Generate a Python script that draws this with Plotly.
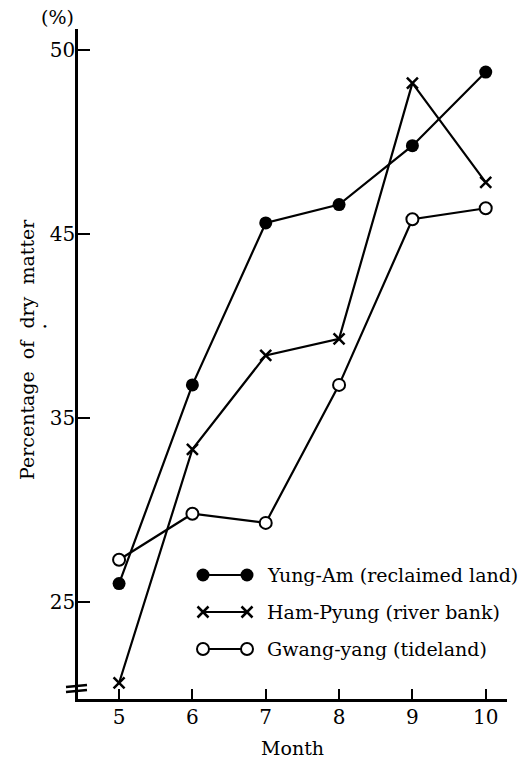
import numpy as np
import plotly.graph_objects as go

# ---- data ----
months = [5, 6, 7, 8, 9, 10]
series_names = ["Yung-Am (reclaimed land)", "Ham-Pyung (river bank)", "Gwang-yang (tideland)"]
yung_am = [26.0, 36.8, 45.3, 45.8, 47.4, 49.4]
ham_pyung = [20.6, 33.3, 38.4, 39.3, 49.1, 46.4]
gwang_yang = [27.3, 29.8, 29.3, 36.8, 45.4, 45.7]
y_tick_labels = [25, 35, 45, 50]
x_tick_labels = [5, 6, 7, 8, 9, 10]

# The printed y axis spaces its labelled ticks evenly (25, 35, 45, 50),
# so values are placed on that piecewise scale.
scale_vals = [15] + y_tick_labels
scale_pos = [-1, 0, 1, 2, 3]


def to_axis(v):
    return np.interp(v, scale_vals, scale_pos)


FONT = "DejaVu Serif"
W, H = 531, 760
L, R, T, B = 78, 24, 29, 61
PW, PH = W - L - R, H - T - B


def px(x):
    return (x - L) / PW


def py(y):
    return (H - B - y) / PH


fig = go.Figure()

styles = [
    dict(symbol="circle", size=13, color="black", line=dict(color="black", width=0)),
    dict(symbol="x-thin", size=11, color="black", line=dict(color="black", width=2.5)),
    dict(symbol="circle", size=12, color="white", line=dict(color="black", width=2)),
]
all_series = [yung_am, ham_pyung, gwang_yang]

for name, vals, st in zip(series_names, all_series, styles):
    fig.add_trace(go.Scatter(
        x=months, y=to_axis(vals), mode="lines+markers", name=name,
        line=dict(color="black", width=2.2), marker=st,
        showlegend=False, cliponaxis=False,
    ))

# custom legend keys (marker - line - marker), on an overlay axis
key_x = [px(203), px(247)]
key_rows = [py(575), py(612), py(649)]
for name, st, ky in zip(series_names, styles, key_rows):
    fig.add_trace(go.Scatter(
        x=key_x, y=[ky, ky], mode="lines+markers", xaxis="x2", yaxis="y2",
        line=dict(color="black", width=2.2), marker=st, showlegend=False,
        hoverinfo="skip", cliponaxis=False,
    ))
    fig.add_annotation(x=px(265), y=ky, xref="paper", yref="paper", text=name,
                       showarrow=False, xanchor="left", yanchor="middle",
                       font=dict(family=FONT, size=19, color="black"))

fig.update_layout(
    width=W, height=H,
    margin=dict(l=L, r=R, t=T, b=B),
    paper_bgcolor="white", plot_bgcolor="white",
    font=dict(family=FONT, size=18, color="black"),
    xaxis=dict(
        range=[4.44, 10.29], tickvals=x_tick_labels, ticktext=[str(v) for v in x_tick_labels],
        showline=True, linecolor="black", linewidth=2.5, ticks="inside", ticklen=10,
        tickwidth=2, tickcolor="black", showgrid=False, zeroline=False,
        ticklabelstandoff=-2, tickfont=dict(family=FONT, size=20),
    ),
    yaxis=dict(
        range=[-0.527, 3.114], tickvals=to_axis(y_tick_labels),
        ticktext=[str(v) for v in y_tick_labels],
        showline=True, linecolor="black", linewidth=2.5, ticks="inside", ticklen=12,
        tickwidth=2, tickcolor="black", showgrid=False, zeroline=False,
        ticklabelstandoff=-4, tickfont=dict(family=FONT, size=20),
    ),
    xaxis2=dict(range=[0, 1], overlaying="x", visible=False, fixedrange=True),
    yaxis2=dict(range=[0, 1], overlaying="y", visible=False, fixedrange=True),
)

# axis titles and unit label
fig.add_annotation(x=px(292), y=py(748), xref="paper", yref="paper", text="Month",
                   showarrow=False, xanchor="center", yanchor="middle",
                   font=dict(family=FONT, size=19))
fig.add_annotation(x=px(27), y=py(350), xref="paper", yref="paper",
                   text="Percentage\u00a0 of\u00a0 dry\u00a0 matter", textangle=-90,
                   showarrow=False, xanchor="center", yanchor="middle",
                   font=dict(family=FONT, size=19))
fig.add_annotation(x=px(57), y=py(17), xref="paper", yref="paper", text="(%)",
                   showarrow=False, xanchor="center", yanchor="middle",
                   font=dict(family=FONT, size=19))
fig.add_annotation(x=px(45), y=py(326), xref="paper", yref="paper", text="\u2022",
                   showarrow=False, xanchor="center", yanchor="middle",
                   font=dict(family=FONT, size=10))

# axis-break mark near the bottom of the y axis
for yy in (686, 691):
    fig.add_shape(type="line", xref="paper", yref="paper",
                  x0=px(66), x1=px(87), y0=py(yy + 1), y1=py(yy - 1),
                  line=dict(color="black", width=2.5))

fig.write_html("out.html")
